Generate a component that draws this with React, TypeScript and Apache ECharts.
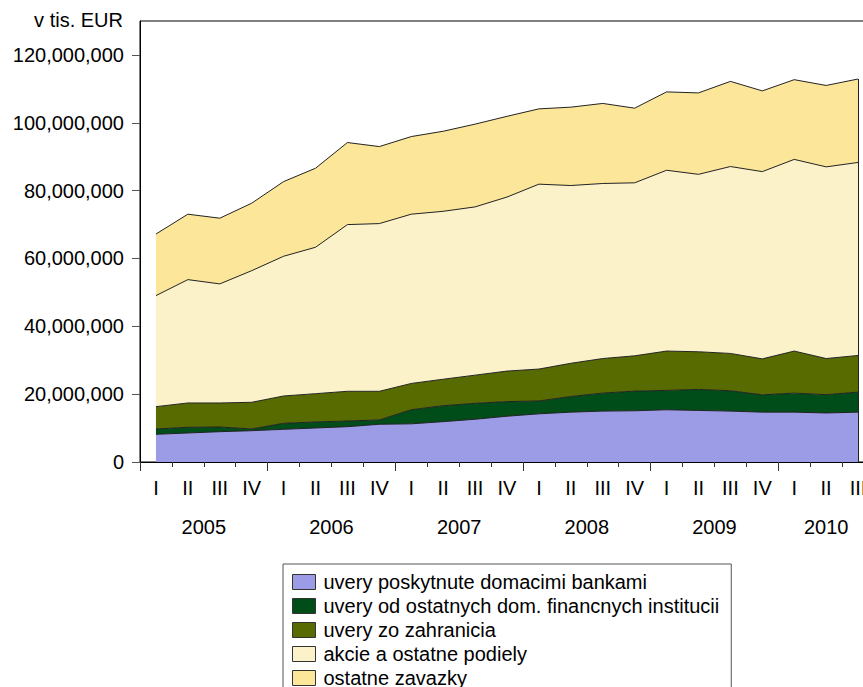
import React, { useEffect, useRef } from "react";
import * as echarts from "echarts";

// Quarterly periods, 2005 I – 2010 III
const periods = [
  "2005 I", "2005 II", "2005 III", "2005 IV",
  "2006 I", "2006 II", "2006 III", "2006 IV",
  "2007 I", "2007 II", "2007 III", "2007 IV",
  "2008 I", "2008 II", "2008 III", "2008 IV",
  "2009 I", "2009 II", "2009 III", "2009 IV",
  "2010 I", "2010 II", "2010 III",
];

const years = ["2005", "2006", "2007", "2008", "2009", "2010"];

// Values in thousands of EUR
const domaceBanky = [
  8170000, 8550000, 8940000, 9230000, 9640000, 10030000, 10410000, 11120000,
  11250000, 11900000, 12600000, 13500000, 14200000, 14700000, 15000000, 15100000,
  15400000, 15200000, 15000000, 14700000, 14700000, 14450000, 14700000,
];
const ostatneInstitucie = [
  1560000, 1680000, 1380000, 500000, 1770000, 1770000, 1680000, 1270000,
  4150000, 4700000, 4700000, 4300000, 3800000, 4600000, 5300000, 5800000,
  5700000, 6200000, 6000000, 5100000, 5600000, 5400000, 5900000,
];
const zahranicie = [
  6580000, 7170000, 7080000, 7870000, 8050000, 8340000, 8750000, 8450000,
  7750000, 7800000, 8300000, 9000000, 9400000, 9800000, 10200000, 10400000,
  11600000, 11100000, 11000000, 10600000, 12400000, 10650000, 10800000,
];
const akcie = [
  32740000, 36360000, 35100000, 38800000, 41190000, 43160000, 49140000, 49440000,
  49900000, 49500000, 49600000, 51300000, 54500000, 52400000, 51600000, 51000000,
  53300000, 52300000, 55100000, 55200000, 56500000, 56500000, 56900000,
];
const ostatneZavazky = [
  18150000, 19290000, 19370000, 19890000, 22010000, 23300000, 24190000, 22700000,
  22880000, 23600000, 24400000, 23800000, 22200000, 23100000, 23600000, 22000000,
  23100000, 24000000, 25100000, 23800000, 23500000, 24000000, 24600000,
];

const seriesNames = [
  "uvery poskytnute domacimi bankami",
  "uvery od ostatnych dom. financnych institucii",
  "uvery zo zahranicia",
  "akcie a ostatne podiely",
  "ostatne zavazky",
];

const yTicks = [0, 20000000, 40000000, 60000000, 80000000, 100000000, 120000000];

const FONT = "'Liberation Sans', Arial, Helvetica, sans-serif";

export default function App() {
  const ref = useRef<HTMLDivElement>(null);

  useEffect(() => {
    if (!ref.current) return;
    const chart = echarts.init(ref.current, undefined, { renderer: "svg" });

    const layers = [domaceBanky, ostatneInstitucie, zahranicie, akcie, ostatneZavazky];
    const fills = ["#9B9BE6", "#004D1A", "#586B00", "#FCF2CA", "#FBE699"];

    // year boundaries and centres along the quarter axis (in band units)
    const yearStarts: number[] = [];
    const yearCenters: number[] = [];
    years.forEach((y) => {
      const idx = periods.map((p, i) => (p.startsWith(y) ? i : -1)).filter((i) => i >= 0);
      yearStarts.push(idx[0]);
      yearCenters.push(idx[0] + idx.length / 2);
    });

    const last = periods.length - 1;
    const lastTotal = layers.reduce((s, l) => s + l[last], 0);

    const series: any[] = layers.map((data, i) => ({
      name: seriesNames[i],
      type: "line",
      stack: "total",
      data,
      symbol: "none",
      smooth: false,
      itemStyle: { color: fills[i] },
      lineStyle: { color: "#222", width: 1 },
      areaStyle: { color: fills[i], opacity: 1 },
      emphasis: { disabled: true },
    }));
    series[series.length - 1].markLine = {
      silent: true,
      symbol: "none",
      label: { show: false },
      lineStyle: { color: "#222", width: 1, type: "solid" },
      data: [[{ coord: [periods[last], 0] }, { coord: [periods[last], lastTotal] }]],
    };

    chart.setOption({
      animation: false,
      textStyle: { fontFamily: FONT },
      grid: {
        left: 140,
        top: 21,
        width: 734,
        height: 441,
        show: true,
        borderColor: "#000",
        borderWidth: 1,
        backgroundColor: "transparent",
      },
      legend: {
        orient: "vertical",
        left: 283,
        top: 564,
        width: 460,
        height: 200,
        padding: [8, 12, 9, 9],
        itemWidth: 23,
        itemHeight: 15,
        itemGap: 4,
        icon: "rect",
        selectedMode: false,
        borderColor: "#555",
        borderWidth: 1,
        backgroundColor: "#fff",
        itemStyle: { borderColor: "#333", borderWidth: 1 },
        textStyle: { fontSize: 20, color: "#000", fontFamily: FONT, lineHeight: 20, padding: [0, 0, 0, 3] },
        data: seriesNames,
      },
      xAxis: [
        {
          type: "category",
          data: periods,
          position: "bottom",
          boundaryGap: true,
          axisLine: { lineStyle: { color: "#000", width: 1 } },
          axisTick: { show: true, interval: 0, alignWithLabel: false, length: 5, lineStyle: { color: "#333" } },
          axisLabel: {
            interval: 0,
            margin: 16,
            fontSize: 20,
            color: "#000",
            fontFamily: FONT,
            formatter: (v: string) => v.split(" ")[1],
          },
          splitLine: { show: false },
        },
        {
          type: "value",
          position: "bottom",
          min: 0,
          max: periods.length,
          axisLine: { show: false },
          axisTick: { show: true, customValues: yearStarts, length: 9, lineStyle: { color: "#333" } },
          axisLabel: {
            customValues: yearCenters,
            margin: 55,
            fontSize: 20,
            color: "#000",
            fontFamily: FONT,
            formatter: (v: number) => {
              const k = yearCenters.findIndex((c) => Math.abs(c - v) < 1e-6);
              return k >= 0 ? years[k] : "";
            },
          },
          splitLine: { show: false },
        },
      ],
      yAxis: {
        type: "value",
        min: 0,
        max: 130000000,
        name: "v tis. EUR",
        nameLocation: "end",
        nameGap: 1,
        nameTextStyle: {
          fontSize: 20,
          color: "#000",
          fontFamily: FONT,
          align: "right",
          verticalAlign: "middle",
          padding: [0, 17, 0, 0],
        },
        axisLine: { show: true, lineStyle: { color: "#000", width: 1 } },
        axisTick: { show: true, customValues: yTicks, length: 8, lineStyle: { color: "#555" } },
        axisLabel: {
          customValues: yTicks,
          margin: 16,
          fontSize: 20,
          color: "#000",
          fontFamily: FONT,
          formatter: (v: number) => v.toLocaleString("en-US"),
        },
        splitLine: { show: false },
      },
      series,
    });

    return () => chart.dispose();
  }, []);

  // The plot runs past the right edge of the view; the outer frame crops it.
  return (
    <div
      style={{ position: "fixed", left: 0, top: 0, width: 863, height: 687, overflow: "hidden", background: "#fff" }}
    >
      <div ref={ref} style={{ width: 890, height: 687 }} />
    </div>
  );
}
